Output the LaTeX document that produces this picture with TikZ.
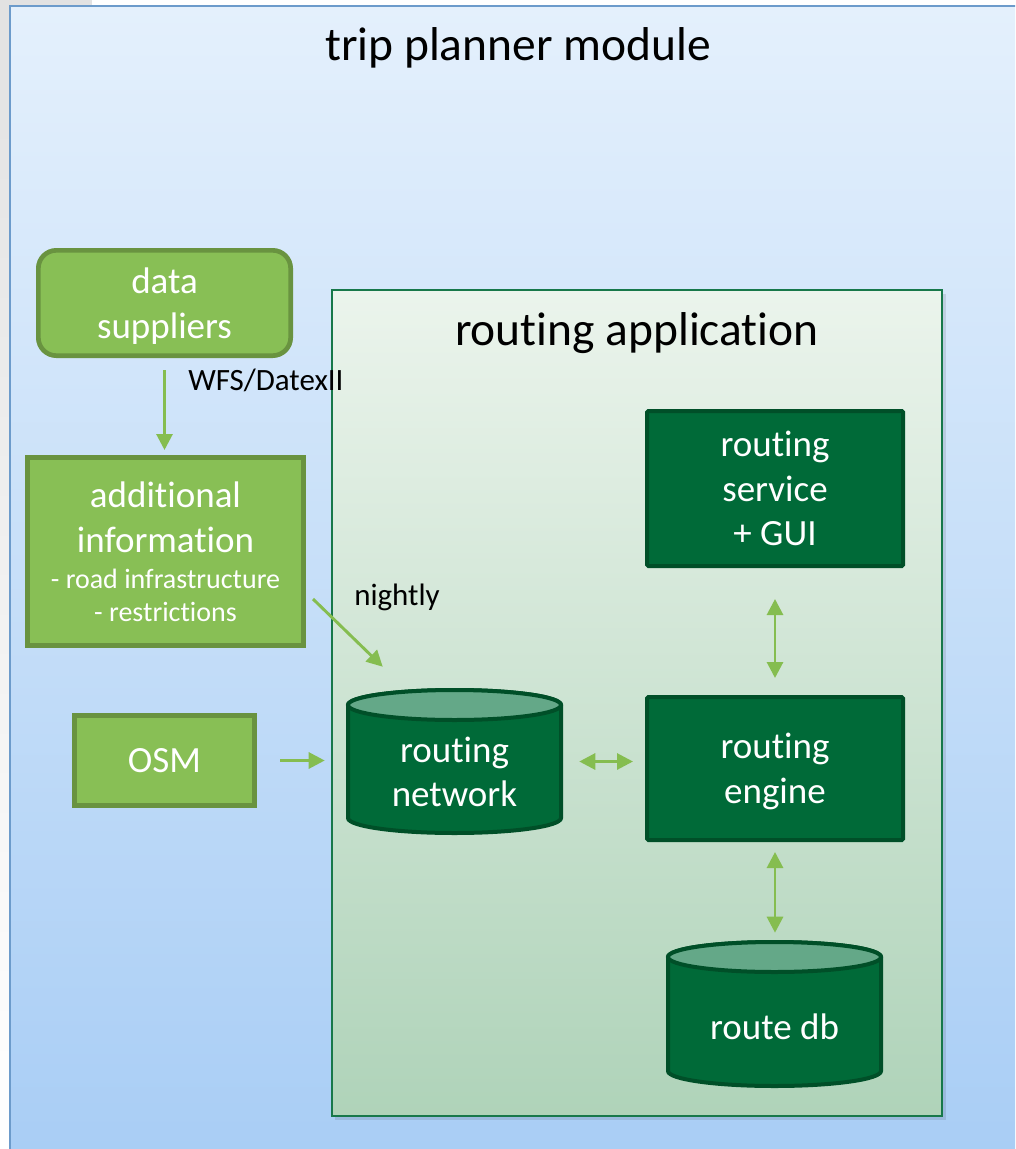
\documentclass[tikz,border=0pt]{standalone}
\usepackage{fontspec}
\setmainfont{Carlito}[Ligatures={NoCommon,NoContextual}]
\usetikzlibrary{arrows.meta,calc}
\definecolor{outerTop}{HTML}{E4F0FC}
\definecolor{outerBot}{HTML}{A8CDF5}
\definecolor{outerLine}{HTML}{6C9BCB}
\definecolor{appTop}{HTML}{EBF4EC}
\definecolor{appBot}{HTML}{AFD3B9}
\definecolor{appLine}{HTML}{17784A}
\definecolor{lgFill}{HTML}{88BF55}
\definecolor{lgLine}{HTML}{699340}
\definecolor{dgFill}{HTML}{006A38}
\definecolor{dgLine}{HTML}{004F28}
\definecolor{dgTop}{HTML}{64A888}
\definecolor{arrowC}{HTML}{85BD50}
\definecolor{sideGray}{HTML}{E2E2E2}
\newcommand\smalltxt{\fontsize{21}{24.75}\selectfont}
\tikzset{
  lightbox/.style={draw=lgLine, fill=lgFill, line width=3.5pt, text=white, align=center,
    font=\fontsize{27.75}{33.75}\selectfont, inner sep=0pt},
  darkbox/.style={draw=dgLine, fill=dgFill, line width=3pt, text=white, align=center,
    font=\fontsize{27.75}{33.5}\selectfont, inner sep=0pt, rounded corners=1pt},
  shapeonly/.style={inner sep=0pt, draw=none},
  dbtext/.style={text=white, align=center, font=\fontsize{27.75}{33.5}\selectfont, inner sep=0pt},
  dbbody/.style={fill=dgFill, draw=dgLine, line width=3pt},
  dbtop/.style={fill=dgTop, draw=dgLine, line width=3pt},
  lbl/.style={text=black, font=\fontsize{23.25}{28}\selectfont, inner sep=0pt},
  bigtitle/.style={text=black, font=\fontsize{35.6}{43}\selectfont, inner sep=0pt},
  arr/.style={draw=arrowC, line width=2.2pt, -{Triangle[length=12pt,width=12pt]}},
  biarr/.style={draw=arrowC, line width=2.2pt,
    {Triangle[length=12pt,width=12pt]}-{Triangle[length=12pt,width=12pt]}},
}
\begin{document}
\begin{tikzpicture}[x=0.75pt,y=-0.75pt]
\useasboundingbox (0,0) rectangle (1015,1149);
\clip (0,0) rectangle (1015,1149);
\fill[white] (0,0) rectangle (1015,1149);
\shade[top color=sideGray, bottom color=white] (0,0) rectangle (10,1149);
\fill[sideGray] (0,0) rectangle (92,6);
% outer frame
\draw[draw=outerLine, line width=1.5pt, top color=outerTop, bottom color=outerBot] (10,6) rectangle (1040,1170);
\node[bigtitle, anchor=base] (title) at (518,61) {trip planner module};
% routing application frame
\fill[black, opacity=0.10] (335,294) rectangle (946,1120);
\draw[draw=appLine, line width=1.5pt, top color=appTop, bottom color=appBot] (332,290) rectangle (942,1116);
\node[bigtitle, anchor=base] (apptitle) at (637,345) {routing application};
% left boxes
\node[lightbox, rounded corners=13.5pt, minimum width=189.25pt, minimum height=79pt] (ds) at (164.5,303) {\rule{0pt}{24pt}data\\suppliers};
\node[lightbox, minimum width=207.25pt, minimum height=141.25pt] (ai) at (165.5,551.5)
  {additional\\information\\[-6.5pt]\smalltxt - road infrastructure\\[-9pt]\smalltxt - restrictions};
\node[lightbox, minimum width=135.25pt, minimum height=67.75pt] (osm) at (164.5,760.5) {OSM};
% dark boxes
\node[darkbox, minimum width=192pt, minimum height=116.25pt] (rs) at (775,488.5) {routing\\service\\+ GUI};
\node[darkbox, minimum width=192pt, minimum height=107.25pt] (en) at (775,768.5) {\rule{0pt}{24pt}routing\\engine};
% routing network cylinder
\node[shapeonly, minimum width=162.75pt, minimum height=110.25pt] (rn) at (454.5,761.5) {};
\filldraw[dbbody] (348,705) -- (348,818) arc[start angle=180,end angle=360,x radius=79.875pt,y radius=11.25pt]
  -- (561,705) arc[start angle=0,end angle=180,x radius=79.875pt,y radius=11.25pt] -- cycle;
\filldraw[dbtop] (454.5,705) ellipse[x radius=79.875pt, y radius=11.25pt];
\node[dbtext] (rnlabel) at (454.5,772) {routing\\network};
% route db cylinder
\node[shapeonly, minimum width=162.75pt, minimum height=111pt] (db) at (774.5,1014) {};
\filldraw[dbbody] (668,957) -- (668,1071) arc[start angle=180,end angle=360,x radius=79.875pt,y radius=11.25pt]
  -- (881,957) arc[start angle=0,end angle=180,x radius=79.875pt,y radius=11.25pt] -- cycle;
\filldraw[dbtop] (774.5,957) ellipse[x radius=79.875pt, y radius=11.25pt];
\node[dbtext] (dblabel) at (774.5,1027) {route db};
% connectors
\draw[arr, shorten <=9pt, shorten >=3.75pt] (ds.south) -- (ds.south |- ai.north);
\node[lbl, anchor=base west] (wfs) at (188,390) {WFS/DatexII};
\draw[arr] ($(ai.east)+(7,47.5)$) -- ($(rn.north west)+(37,-21)$);
\node[lbl, anchor=base west] (nightly) at (354,605) {nightly};
\draw[arr, shorten <=17.5pt, shorten >=15.75pt] (osm.east) -- (osm.east -| rn.west);
\draw[biarr, shorten <=12pt, shorten >=9pt] (rn.east) -- (rn.east -| en.west);
\draw[biarr, shorten <=23.25pt, shorten >=12.75pt] (rs.south) -- (en.north);
\draw[biarr, shorten <=7.5pt, shorten >=5.25pt] (en.south) -- (en.south |- db.north);
\end{tikzpicture}
\end{document}
